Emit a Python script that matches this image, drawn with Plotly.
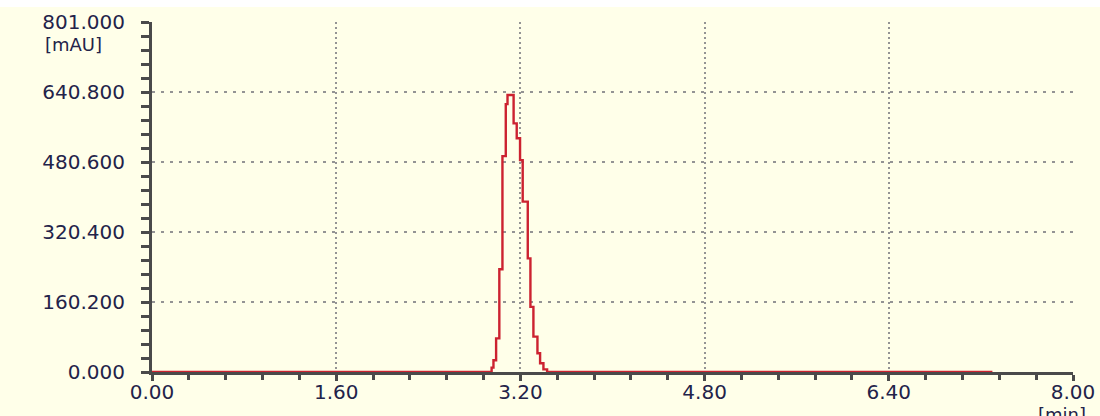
import plotly.graph_objects as go

# Chromatogram data (time in min, signal in mAU)
times = [0.0, 2.950, 2.966, 2.989, 3.017, 3.044, 3.073, 3.088, 3.141, 3.168, 3.197,
         3.220, 3.264, 3.287, 3.313, 3.348, 3.371, 3.400, 3.432, 7.30]
signal = [0, 10, 27, 77, 235, 494, 613, 634, 569, 535, 485,
          390, 260, 149, 81, 43, 20, 6, 0, 0]

x_ticks = [0.0, 1.6, 3.2, 4.8, 6.4, 8.0]
x_labels = ["0.00", "1.60", "3.20", "4.80", "6.40", "8.00"]
y_ticks = [0.0, 160.2, 320.4, 480.6, 640.8, 801.0]
y_labels = ["0.000", "160.200", "320.400", "480.600", "640.800", "801.000"]

cream = "#FFFFE9"
axis_col = "#4A4A4A"
grid_col = "#949494"
txt_col = "#23234A"
font_fam = "DejaVu Sans"

fig = go.Figure()
fig.add_trace(go.Scatter(
    x=times, y=signal, mode="lines", line=dict(color="#CC2230", width=2.4, shape="hv"),
    showlegend=False, hoverinfo="skip"))

fig.update_layout(
    width=1100, height=416,
    margin=dict(l=152, r=27, t=22, b=44),
    paper_bgcolor=cream, plot_bgcolor=cream,
    font=dict(family=font_fam, size=20, color=txt_col),
    xaxis=dict(
        range=[0, 8.0], tickvals=x_ticks, ticktext=x_labels, automargin=False,
        showline=True, linecolor=axis_col, linewidth=3, layer="below traces",
        ticks="outside", ticklen=6, tickwidth=2.5, tickcolor=axis_col,
        showgrid=True, gridcolor=grid_col, griddash="2px,3px", gridwidth=1.6,
        zeroline=False,
        minor=dict(dtick=0.32, tick0=0, ticks="outside", ticklen=5, tickwidth=2.5,
                   tickcolor=axis_col, showgrid=False),
        tickfont=dict(family=font_fam, size=20, color=txt_col),
        ticklabelstandoff=-6,
    ),
    yaxis=dict(
        range=[0, 801.0], tickvals=y_ticks, ticktext=y_labels, automargin=False,
        showline=True, linecolor=axis_col, linewidth=3, layer="below traces",
        ticks="outside", ticklen=8, tickwidth=2.5, tickcolor=axis_col,
        showgrid=True, gridcolor=grid_col, griddash="3px,6px", gridwidth=1.6,
        zeroline=False,
        minor=dict(dtick=32.04, tick0=0, ticks="outside", ticklen=8, tickwidth=2.5,
                   tickcolor=axis_col, showgrid=False),
        tickfont=dict(family=font_fam, size=20, color=txt_col),
        ticklabelstandoff=12,
    ),
    shapes=[dict(type="rect", xref="paper", yref="paper", x0=-0.3, x1=1.1,
                 y0=1 + 15 / 350, y1=1.2, fillcolor="white", line=dict(width=0),
                 layer="below")],
    annotations=[
        dict(text="[mAU]", xref="paper", yref="y", x=-(152 - 73) / 921, y=801.0,
             xanchor="center", yanchor="top", yshift=-10, showarrow=False,
             font=dict(family=font_fam, size=18, color=txt_col)),
        dict(text="[min]", xref="x", yref="paper", x=8.0, y=0, xanchor="left",
             yanchor="top", xshift=-37, yshift=-30, showarrow=False,
             font=dict(family=font_fam, size=18, color=txt_col)),
    ],
)

fig.write_html(
    "out.html",
    config={"displayModeBar": False},
    post_script="document.body.style.margin='0px';document.body.style.overflow='hidden';",
)
